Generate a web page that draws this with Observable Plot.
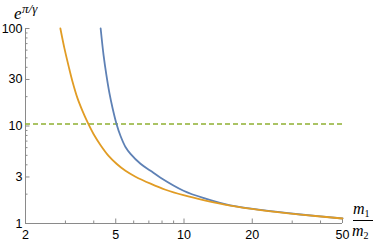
<!DOCTYPE html>
<html><head><meta charset="utf-8">
<script src="https://cdn.jsdelivr.net/npm/d3@7"></script>
<script src="https://cdn.jsdelivr.net/npm/@observablehq/plot@0.6"></script>
<style>
body{margin:0;background:#fff;}
</style></head><body><div id="chart"></div>
<script>
// Orange curve (mass ratio m1/m2 -> e^{pi/gamma})
const orangeRatio = [2.85, 2.97, 3.1, 3.22, 3.39, 3.57, 3.75, 3.99, 4.28, 4.65, 5.04, 5.52, 6.11, 7.12, 8.29, 9.95, 12.45, 16.0, 21.8, 32.7, 50];
const orangeValue = [100, 62.5, 40.9, 28.8, 19.3, 14.2, 11.0, 8.28, 6.4, 4.94, 4.1, 3.47, 3.02, 2.56, 2.22, 1.95, 1.717, 1.526, 1.373, 1.235, 1.125];
// Blue curve
const blueRatio = [4.29, 4.42, 4.55, 4.69, 4.84, 5.04, 5.25, 5.52, 5.81, 6.43, 7.12, 7.88, 9.95, 12.45, 16.0, 21.8, 32.7, 50];
const blueValue = [100, 53, 33, 21.7, 15.3, 10.5, 7.9, 6.1, 5.18, 4.1, 3.47, 2.95, 2.17, 1.8, 1.535, 1.378, 1.237, 1.125];
// Dashed reference level
const thresholdValue = [10.5];
// Ticks
const xMajorTicks = [2, 5, 10, 20, 50];
const xMinorTicks = [3, 4, 6, 7, 8, 9, 30, 40];
const yMajorTicks = [1, 3, 10, 30, 100];
const yMinorTicks = [2, 4, 5, 6, 7, 8, 9, 20, 40, 50, 60, 70, 80, 90];

const orange = orangeRatio.map((r, i) => ({r, v: orangeValue[i]}));
const blue = blueRatio.map((r, i) => ({r, v: blueValue[i]}));

const W = 374, H = 242, mL = 25, mR = 32, mT = 28, mB = 19;
const pW = W - mL - mR, pH = H - mT - mB;
const axisColor = "#8a8a8a";

const svg = Plot.plot({
  width: W, height: H,
  marginLeft: mL, marginRight: mR, marginTop: mT, marginBottom: mB,
  x: {type: "log", domain: [2, 50]},
  y: {type: "log", domain: [1, 100]},
  style: {fontFamily: "'Liberation Sans', Arial, sans-serif", fontSize: "12.5px", color: "#000", background: "#fff"},
  marks: [
    Plot.ruleY([1], {stroke: axisColor, strokeWidth: 1}),
    Plot.ruleX([2], {stroke: axisColor, strokeWidth: 1}),
    Plot.ruleX(xMajorTicks, {insetTop: pH - 4.5, stroke: axisColor}),
    Plot.ruleX(xMinorTicks, {insetTop: pH - 2.5, stroke: axisColor}),
    Plot.ruleY(yMajorTicks, {insetRight: pW - 4.5, stroke: axisColor}),
    Plot.ruleY(yMinorTicks, {insetRight: pW - 2.5, stroke: axisColor}),
    Plot.axisX({ticks: xMajorTicks, tickSize: 0, tickPadding: 7, tickFormat: d => String(d), label: null, fill: "#000"}),
    Plot.axisY({ticks: yMajorTicks, tickSize: 0, tickPadding: 3, tickFormat: d => String(d), label: null, fill: "#000"}),
    Plot.ruleY(thresholdValue, {stroke: "#8FB032", strokeWidth: 1.5, strokeDasharray: "5,3"}),
    Plot.line(blue, {x: "r", y: "v", stroke: "#5E81B5", strokeWidth: 1.8, curve: "catmull-rom"}),
    Plot.line(orange, {x: "r", y: "v", stroke: "#E19C24", strokeWidth: 1.8, curve: "catmull-rom"})
  ]
});

const serif = "'Liberation Serif', 'DejaVu Serif', serif";
const s = d3.select(svg);
const yl = s.append("text").attr("x", 14).attr("y", 19).attr("text-anchor", "start")
  .attr("font-family", serif).attr("font-style", "italic").attr("font-size", 17).attr("fill", "#000");
yl.append("tspan").text("e");
yl.append("tspan").attr("font-size", 13).attr("dy", -6.5).attr("dx", 0.5).text("π/γ");

const n = s.append("text").attr("x", 353).attr("y", 214).attr("text-anchor", "start")
  .attr("font-family", serif).attr("font-style", "italic").attr("font-size", 16).attr("fill", "#000");
n.append("tspan").text("m");
n.append("tspan").attr("font-size", 10).attr("font-style", "normal").attr("dy", 3).text("1");
s.append("line").attr("x1", 353).attr("x2", 373).attr("y1", 220.5).attr("y2", 220.5).attr("stroke", "#000").attr("stroke-width", 1);
const dd = s.append("text").attr("x", 352).attr("y", 236).attr("text-anchor", "start")
  .attr("font-family", serif).attr("font-style", "italic").attr("font-size", 16).attr("fill", "#000");
dd.append("tspan").text("m");
dd.append("tspan").attr("font-size", 10).attr("font-style", "normal").attr("dy", 3).text("2");

document.getElementById("chart").appendChild(svg);
</script>
</body></html>
